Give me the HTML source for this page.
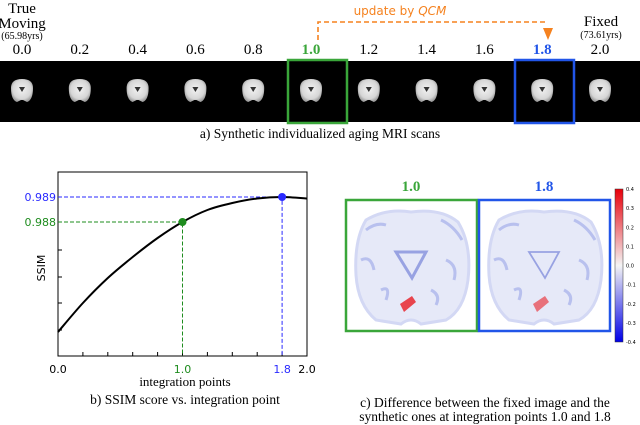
<!DOCTYPE html>
<html><head><meta charset="utf-8">
<style>
html,body{margin:0;padding:0;background:#fff;}
body{width:640px;height:425px;overflow:hidden;position:relative;}
svg{position:absolute;left:0;top:0;}
.serif{font-family:"Liberation Serif",serif;}
.sans{font-family:"DejaVu Sans","Liberation Sans",sans-serif;}
</style></head>
<body>
<svg id="fig" width="640" height="425" viewBox="0 0 640 425">
<defs>
<radialGradient id="brainG" cx="50%" cy="45%" r="55%">
<stop offset="0%" stop-color="#f2f2f2"/><stop offset="75%" stop-color="#d6d6d6"/><stop offset="100%" stop-color="#a0a0a0"/>
</radialGradient>
<linearGradient id="cbar" x1="0" y1="0" x2="0" y2="1">
<stop offset="0" stop-color="#e8000b"/><stop offset="0.5" stop-color="#f4f4f4"/><stop offset="1" stop-color="#0000e8"/>
</linearGradient>
</defs>
<g>
<text class="serif" x="22" y="13" font-size="15" text-anchor="middle">True</text>
<text class="serif" x="22" y="28" font-size="15" text-anchor="middle">Moving</text>
<text class="serif" x="22" y="39" font-size="10" text-anchor="middle">(65.98yrs)</text>
<text class="serif" x="601" y="26" font-size="15" text-anchor="middle">Fixed</text>
<text class="serif" x="601" y="38" font-size="10" text-anchor="middle">(73.61yrs)</text>
<path d="M318 40 V22 H548" fill="none" stroke="#f5821f" stroke-width="1.6" stroke-dasharray="5,3"/>
<path d="M543 28 L553 28 L548 40 Z" fill="#f5821f"/>
<text class="sans" x="400" y="15" font-size="12" fill="#f5821f" text-anchor="middle">update by <tspan font-style="italic">QCM</tspan></text>
<rect x="0" y="61" width="640" height="61" fill="#000"/>
<g id="scans"></g>
<rect x="288" y="60" width="59" height="63" fill="none" stroke="#3aa63a" stroke-width="2.5"/>
<rect x="515" y="60" width="59" height="63" fill="none" stroke="#2155e8" stroke-width="2.5"/>
<text class="serif" x="320" y="138" font-size="13.5" text-anchor="middle">a) Synthetic individualized aging MRI scans</text>
</g>
<g id="chartb">
<rect x="58" y="172" width="249" height="184" fill="none" stroke="#000" stroke-width="1"/>
<text class="sans" transform="translate(45,268) rotate(-90)" font-size="11" text-anchor="middle">SSIM</text>
<text class="serif" x="185" y="386" font-size="13" text-anchor="middle">integration points</text>
<text class="serif" x="185" y="404" font-size="13.5" text-anchor="middle">b) SSIM score vs. integration point</text>
</g>
<g>
<text class="serif" x="411" y="191" font-size="15" font-weight="bold" fill="#3aa63a" text-anchor="middle">1.0</text>
<text class="serif" x="544" y="191" font-size="15" font-weight="bold" fill="#2155e8" text-anchor="middle">1.8</text>
<g id="diffs"></g>
<rect x="346" y="200" width="131" height="131" fill="none" stroke="#3aa63a" stroke-width="2.5"/>
<rect x="479" y="200" width="131" height="131" fill="none" stroke="#2155e8" stroke-width="2.5"/>
<rect x="615" y="189" width="8" height="153" fill="url(#cbar)" stroke="#333" stroke-width="0.5"/>
<g id="cbticks"></g>
<text class="serif" x="485" y="407" font-size="13.5" text-anchor="middle">c) Difference between the fixed image and the</text>
<text class="serif" x="485" y="421" font-size="13.5" text-anchor="middle">synthetic ones at integration points 1.0  and 1.8</text>
</g>
</svg>
<script>
const NS="http://www.w3.org/2000/svg";
function mk(tag,attrs,parent){const e=document.createElementNS(NS,tag);for(const k in attrs)e.setAttribute(k,attrs[k]);parent.appendChild(e);return e;}

const scanLabels=["0.0","0.2","0.4","0.6","0.8","1.0","1.2","1.4","1.6","1.8","2.0"];
const scans=document.getElementById('scans');
scanLabels.forEach((l,i)=>{
  const cx=22+57.8*i;
  const col=l==="1.0"?"#3aa63a":(l==="1.8"?"#2155e8":"#000");
  const t=mk('text',{x:cx,y:54,'font-size':15,'text-anchor':'middle',fill:col,'font-weight':(col!=="#000"?"bold":"normal"),class:'serif'},scans);
  t.textContent=l;
  
  
  const b=mk('path',{d:`M${cx-11} ${88} Q${cx-11} ${79} ${cx} ${79} Q${cx+11} ${79} ${cx+11} ${88} Q${cx+11} ${100} ${cx+5} ${102} L${cx+1} ${100} L${cx-1} ${100} L${cx-5} ${102} Q${cx-11} ${100} ${cx-11} ${88} Z`,fill:'url(#brainG)'},scans);
  
  
  const v=mk('path',{d:`M${cx-3} ${87} L${cx+3} ${87} L${cx} ${92} Z`,fill:'#333'},scans);
  
  
});

const xVals=[0,0.2,0.4,0.6,0.8,1.0,1.2,1.4,1.6,1.8,2.0];
const ssimVals=[0.9836,0.98476,0.98576,0.9866,0.98736,0.988,0.98848,0.98876,0.98894,0.989,0.98894];
const yTickVals=[0.989,0.988,0.98688,0.98580,0.98476,0.98368];
const xTickVals=[0,0.2,0.4,0.6,0.8,1.0,1.2,1.4,1.6,1.8,2.0];
const xLabelVals=[0,1.0,1.8,2.0];
const highlightX=[1.0,1.8];
const highlightY=[0.988,0.989];
const highlightColors=["#1e8c1e","#2a2aff"];
const xMin=0,xMax=2,yMin=0.98264,yMax=0.99;
const L=58,R=307,T=172,B=356;
const sx=v=>L+(v-xMin)/(xMax-xMin)*(R-L);
const sy=v=>B-(v-yMin)/(yMax-yMin)*(B-T);
const cb=document.getElementById('chartb');
yTickVals.forEach((v,i)=>{
  const tk=mk('line',{x1:L,x2:L+4,y1:sy(v),y2:sy(v),stroke:'#000','stroke-width':1},cb);
  
  
});
xTickVals.forEach((v,i)=>{
  const tk=mk('line',{x1:sx(v),x2:sx(v),y1:B,y2:B-4,stroke:'#000','stroke-width':1},cb);
  
  
});
xLabelVals.forEach(v=>{
  const col=v===1.0?"#1e8c1e":(v===1.8?"#2a2aff":"#000");
  const t=mk('text',{x:sx(v),y:373,'font-size':11,'text-anchor':'middle',fill:col,class:'sans'},cb);
  t.textContent=v.toFixed(1);
  
  
});
highlightX.forEach((hx,i)=>{
  const c=highlightColors[i];
  const g1=mk('path',{d:`M${L} ${sy(highlightY[i])} H${sx(hx)} V${B}`,fill:'none',stroke:c,'stroke-width':1,'stroke-dasharray':'4,2'},cb);
  
  
  const lb=mk('text',{x:L-2,y:sy(highlightY[i])+4,'font-size':11,'text-anchor':'end',fill:c,class:'sans'},cb);
  lb.textContent=highlightY[i].toFixed(3);
  
  
});
const pts=xVals.map((x,i)=>[sx(x),sy(ssimVals[i])]);
let d=`M${pts[0][0]} ${pts[0][1]}`;
for(let i=0;i<pts.length-1;i++){
  const p0=pts[Math.max(0,i-1)],p1=pts[i],p2=pts[i+1],p3=pts[Math.min(pts.length-1,i+2)];
  d+=` C${p1[0]+(p2[0]-p0[0])/6} ${p1[1]+(p2[1]-p0[1])/6} ${p2[0]-(p3[0]-p1[0])/6} ${p2[1]-(p3[1]-p1[1])/6} ${p2[0]} ${p2[1]}`;
}
const curve=mk('path',{d:d,fill:'none',stroke:'#000','stroke-width':2},cb);


highlightX.forEach((hx,i)=>{
  const pt=mk('circle',{cx:sx(hx),cy:sy(highlightY[i]),r:4,fill:highlightColors[i]},cb);
  
  
});

const diffs=document.getElementById('diffs');
[[346,"1-0",1],[479,"1-8",0.6]].forEach(([x0,n,s])=>{
  const g=mk('g',{transform:`translate(${x0},200)`},diffs);
  
  
  mk('path',{d:'M20 20 Q40 8 65 12 Q95 8 112 22 Q126 45 122 80 Q118 110 100 120 L75 124 Q65 116 55 124 L30 120 Q12 105 10 75 Q8 40 20 20 Z',fill:'#e6e9f8',stroke:'#d3d8f4','stroke-width':3},g);
  mk('path',{d:'M50 52 L80 52 L66 78 Z',fill:'none',stroke:'#98a2e2','stroke-width':3*s},g);
  mk('path',{d:'M20 30 Q30 22 40 25 M95 20 Q108 26 116 40 M15 60 Q25 55 28 70 M100 60 Q112 65 108 80 M35 90 Q45 85 40 100 M85 90 Q95 95 90 105',fill:'none',stroke:'#b8c0ee','stroke-width':3},g);
  mk('path',{d:'M54 104 L66 96 L70 102 L58 112 Z',fill:'#e8323a',opacity:0.3+0.6*s},g);
});
const cbTicks=["0.4","0.3","0.2","0.1","0.0","-0.1","-0.2","-0.3","-0.4"];
const cbt=document.getElementById('cbticks');
cbTicks.forEach((l,i)=>{
  const y=189+i*153/8;
  const t=mk('text',{x:626,y:y+2,'font-size':5,class:'sans'},cbt);
  t.textContent=l;
  
  
});
</script>
</body></html>
